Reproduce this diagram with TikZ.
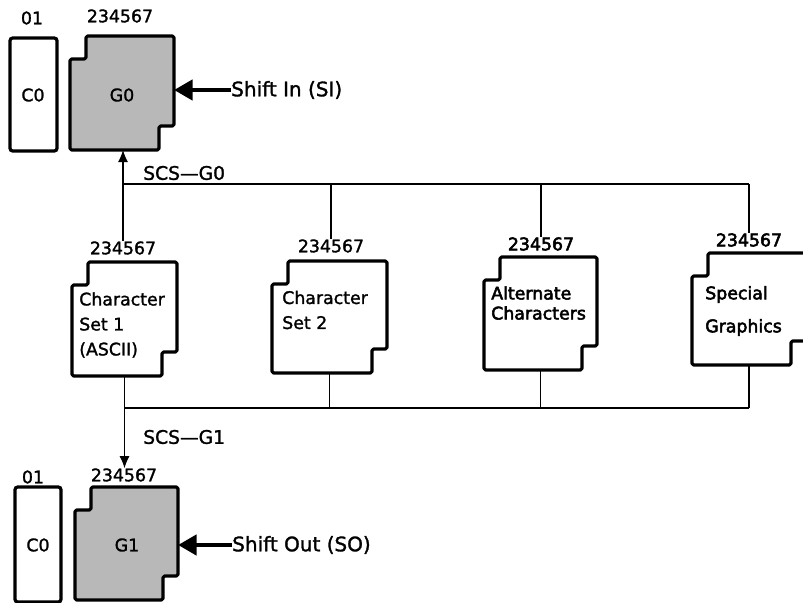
\documentclass[tikz,border=0pt]{standalone}
\usepackage{fontspec}
\setmainfont[FakeBold=1.5]{DejaVu Sans}
\newfontfamily\heavyfont[FakeBold=3]{DejaVu Sans}
\usetikzlibrary{arrows.meta,fit,calc}
\newcommand\notchoutline[2]{%
  \draw[line width=2.4pt, line join=round, rounded corners=1.2pt, #2]
    ($(#1.north west)+(16,0)$) -- (#1.north east)
    -- ($(#1.south east)+(0,-24)$) -- ($(#1.south east)+(-15,-24)$)
    -- ($(#1.south east)+(-15,0)$) -- (#1.south west)
    -- ($(#1.north west)+(0,23)$) -- ($(#1.north west)+(16,23)$) -- cycle;}
\begin{document}
\begin{tikzpicture}[x=0.75pt,y=-0.75pt,
  shp/.style={inner sep=0pt, outer sep=0pt, draw=none},
  gfill/.style={fill=black!28},
  cbox/.style={line width=2.4pt, rounded corners=2pt},
  num/.style={inner sep=0pt, font=\fontsize{13}{15}\selectfont},
  lbl/.style={inner sep=0pt, font=\fontsize{14.5}{17}\selectfont},
  boxtext/.style={inner sep=0pt, anchor=west, align=left},
  conn/.style={line width=0.9pt},
  thinarr/.style={conn, -{Latex[length=9pt,width=7.5pt]}},
  bigarr/.style={line width=3.6pt, -{Triangle[length=14pt,width=15pt]}}]
\useasboundingbox (0,0) rectangle (803,603);

% --- top C0 / G0
\node[shp, fit={(10,38)(57,151)}] (c0a) {};
\draw[cbox] (c0a.north west) rectangle (c0a.south east);
\node[num] (c0at) at (33,95) {C0};
\node[num] (n01a) at (32,18) {01};
\node[shp, fit={(70,36)(174,150)}] (g0) {};
\notchoutline{g0}{gfill}
\node[num] (g0t) at (122,95) {G0};
\node[num] (l0) at (120,16) {234567};
\node[lbl, anchor=west, font=\fontsize{15}{17}\selectfont] (si) at (231,90) {Shift In (SI)};
\draw[bigarr] (si.west) -- (g0.east |- si.west);

% --- character sets
\node[shp, fit={(72,262)(177,376)}] (cs1) {};
\notchoutline{cs1}{fill=white}
\node[num] (l1) at (123,248) {234567};
\node[boxtext, font=\fontsize{13}{18.75}\selectfont] (t1) at (79,325) {Character\\Set 1\\(ASCII)};

\node[shp, fit={(272,261)(387,373)}] (cs2) {};
\notchoutline{cs2}{fill=white}
\node[num] (l2) at (331,246) {234567};
\node[boxtext, font=\fontsize{13}{18.75}\selectfont] (t2) at (282,310) {Character\\Set 2};

\node[shp, fit={(484,257)(597,370)}] (alt) {};
\notchoutline{alt}{fill=white}
\node[num, font=\heavyfont\fontsize{13}{15}\selectfont] (l3) at (541,244) {234567};
\node[boxtext, font=\heavyfont\fontsize{13}{15}\selectfont] (t3) at (491,303) {Alternate\\Characters};

\node[shp, fit={(692,253)(806,365)}] (sg) {};
\notchoutline{sg}{fill=white}
\node[num, font=\heavyfont\fontsize{13}{15}\selectfont] (l4) at (749,240) {234567};
\node[boxtext, font=\heavyfont\fontsize{13}{24.75}\selectfont] (t4) at (705,311) {Special\\Graphics};

% --- top bus (SCS-G0)
\coordinate (tb) at (0,184);
\draw[conn] (l1.north |- tb) -- (l4.north |- tb);
\draw[thinarr] (l1.north) -- (l1.north |- g0.south);
\draw[conn] (l2.north |- tb) -- (l2.north);
\draw[conn] (l3.north |- tb) -- (l3.north);
\draw[conn] (l4.north |- tb) -- (l4.north);
\node[lbl, anchor=west, font=\fontsize{14}{17}\selectfont] (scs0) at (143,173) {SCS—G0};

% --- bottom bus (SCS-G1)
\coordinate (bb) at (0,408);
\draw[conn] (cs1.south |- bb) -- (sg.south |- bb);
\draw[conn] (cs2.south) -- (cs2.south |- bb);
\draw[conn] (alt.south) -- (alt.south |- bb);
\draw[conn] (sg.south) -- (sg.south |- bb);
\node[lbl, anchor=west, font=\fontsize{14}{17}\selectfont] (scs1) at (143,437) {SCS—G1};

% --- bottom C0 / G1
\node[shp, fit={(15,487)(61,602)}] (c0b) {};
\draw[cbox] (c0b.north west) rectangle (c0b.south east);
\node[num] (c0bt) at (38,545) {C0};
\node[num] (n01b) at (33,477) {01};
\node[shp, fit={(75,487)(178,600)}] (g1) {};
\notchoutline{g1}{gfill}
\node[num] (g1t) at (127,545) {G1};
\node[num] (lg1) at (124,475) {234567};
\draw[thinarr] (cs1.south) -- (cs1.south |- lg1.north);
\node[lbl, anchor=west, font=\fontsize{15}{17}\selectfont] (so) at (232,545) {Shift Out (SO)};
\draw[bigarr] (so.west) -- (g1.east |- so.west);
\end{tikzpicture}
\end{document}
